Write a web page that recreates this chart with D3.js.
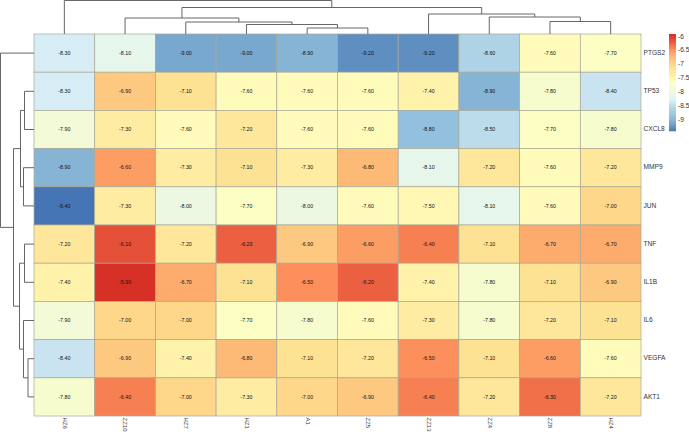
<!DOCTYPE html>
<html><head><meta charset="utf-8">
<script src="https://cdnjs.cloudflare.com/ajax/libs/d3/7.8.5/d3.min.js"></script>
<style>html,body{margin:0;padding:0;background:#fff}svg{display:block}text{font-family:"Liberation Sans",Arial,sans-serif}</style>
</head><body><div id="c"></div>
<script>
const columns = ["HZ6","ZZ10","HZ7","HZ1","A1","ZZ5","ZZ13","ZZ4","ZZ8","HZ4"];
const rows = ["PTGS2","TP53","CXCL8","MMP9","JUN","TNF","IL1B","IL6","VEGFA","AKT1"];
const PTGS2 = [-8.3,-8.1,-9.0,-9.0,-8.9,-9.2,-9.2,-8.6,-7.6,-7.7];
const TP53  = [-8.3,-6.9,-7.1,-7.6,-7.6,-7.6,-7.4,-8.9,-7.8,-8.4];
const CXCL8 = [-7.9,-7.3,-7.6,-7.2,-7.6,-7.6,-8.8,-8.5,-7.7,-7.8];
const MMP9  = [-8.9,-6.6,-7.3,-7.1,-7.3,-6.8,-8.1,-7.2,-7.6,-7.2];
const JUN   = [-9.4,-7.3,-8.0,-7.7,-8.0,-7.6,-7.5,-8.1,-7.6,-7.0];
const TNF   = [-7.2,-6.1,-7.2,-6.2,-6.9,-6.6,-6.4,-7.1,-6.7,-6.7];
const IL1B  = [-7.4,-5.9,-6.7,-7.1,-6.5,-6.2,-7.4,-7.8,-7.1,-6.9];
const IL6   = [-7.9,-7.0,-7.0,-7.7,-7.8,-7.6,-7.3,-7.8,-7.2,-7.1];
const VEGFA = [-8.4,-6.9,-7.4,-6.8,-7.1,-7.2,-6.5,-7.1,-6.6,-7.6];
const AKT1  = [-7.8,-6.4,-7.0,-7.3,-7.0,-6.9,-6.4,-7.2,-6.3,-7.2];
const matrix = [PTGS2,TP53,CXCL8,MMP9,JUN,TNF,IL1B,IL6,VEGFA,AKT1];
const legendTicks = [-6,-6.5,-7,-7.5,-8,-8.5,-9];
const palette = ["#4575B4","#91BFDB","#E0F3F8","#FFFFBF","#FEE090","#FC8D59","#D73027"];
// clustering trees: [merge height, child, child]; leaves are names
const colTree = [3.35,"HZ6",[2.65,[1.6,"ZZ10",[1.2,"HZ7",[0.95,"HZ1",[0.6,"A1","ZZ5"]]]],[2.0,"ZZ13",[1.7,"ZZ4",[1.25,"ZZ8","HZ4"]]]]];
const rowTree = [3.35,"PTGS2",[2.05,[1.35,[0.95,"TP53","CXCL8"],[1.05,"MMP9","JUN"]],[1.45,[0.95,"TNF","IL1B"],[1.05,"IL6",[0.6,"VEGFA","AKT1"]]]]];

const W=689,H=432;
const svg=d3.select("#c").append("svg").attr("width",W).attr("height",H);
const x=d3.scaleBand().domain(columns).range([34,641]);
const y=d3.scaleBand().domain(rows).range([34,416]);
const flat=matrix.flat();
const vmin=d3.min(flat),vmax=d3.max(flat);
const color=d3.scaleLinear().domain(palette.map((_,i)=>vmin+(vmax-vmin)*i/(palette.length-1))).range(palette).interpolate(d3.interpolateRgb);

// cells
const cells=rows.flatMap((r,i)=>columns.map((c,j)=>({r,c,v:matrix[i][j]})));
const g=svg.append("g");
g.selectAll("rect").data(cells).join("rect")
 .attr("x",d=>x(d.c)).attr("y",d=>y(d.r)).attr("width",x.bandwidth()).attr("height",y.bandwidth())
 .attr("fill",d=>color(d.v)).attr("stroke","#a8a898").attr("stroke-width",0.7);
g.selectAll("text").data(cells).join("text")
 .attr("x",d=>x(d.c)+x.bandwidth()/2).attr("y",d=>y(d.r)+y.bandwidth()/2+0.3)
 .attr("text-anchor","middle").attr("dominant-baseline","middle")
 .attr("font-size",5.3).attr("fill","#111").text(d=>d.v.toFixed(2));

// labels
svg.append("g").selectAll("text").data(rows).join("text")
 .attr("x",643.5).attr("y",r=>y(r)+y.bandwidth()/2).attr("dominant-baseline","middle")
 .attr("font-size",6.6).attr("fill","#333").text(r=>r);
svg.append("g").selectAll("text").data(columns).join("text")
 .attr("transform",c=>`translate(${x(c)+x.bandwidth()/2},417.5) rotate(90)`)
 .attr("dominant-baseline","middle").attr("font-size",6).attr("fill","#333").text(c=>c);

// dendrograms
function walk(node,pos,out){
  if(typeof node==="string") return {p:pos(node),h:0};
  const a=walk(node[1],pos,out),b=walk(node[2],pos,out);
  out.push({h:node[0],a,b});
  return {p:(a.p+b.p)/2,h:node[0]};
}
const hTop=d3.scaleLinear().domain([0,3.35]).range([34,0.5]);
const hLeft=d3.scaleLinear().domain([0,3.35]).range([34,0.5]);
const colMerges=[],rowMerges=[];
walk(colTree,c=>x(c)+x.bandwidth()/2,colMerges);
walk(rowTree,r=>y(r)+y.bandwidth()/2,rowMerges);
const dg=svg.append("g").attr("fill","none").attr("stroke","#555").attr("stroke-width",0.9);
dg.selectAll("path.c").data(colMerges).join("path").attr("class","c")
 .attr("d",m=>`M${m.a.p},${hTop(m.a.h)}V${hTop(m.h)}H${m.b.p}V${hTop(m.b.h)}`);
dg.selectAll("path.r").data(rowMerges).join("path").attr("class","r")
 .attr("d",m=>`M${hLeft(m.a.h)},${m.a.p}H${hLeft(m.h)}V${m.b.p}H${hLeft(m.b.h)}`);

// legend
const ly=d3.scaleLinear().domain([vmax,vmin]).range([34,131]);
const steps=d3.range(100).map(i=>vmax-(vmax-vmin)*i/100);
const step=(vmax-vmin)/100;
svg.append("g").selectAll("rect").data(steps).join("rect")
 .attr("x",669).attr("width",7).attr("y",v=>ly(v)).attr("height",v=>ly(v-step)-ly(v)+0.3).attr("fill",v=>color(v));
svg.append("g").selectAll("text").data(legendTicks).join("text")
 .attr("x",678).attr("y",v=>ly(v)).attr("dominant-baseline","middle")
 .attr("font-size",6.6).attr("fill","#333").text(v=>v);
</script></body></html>
